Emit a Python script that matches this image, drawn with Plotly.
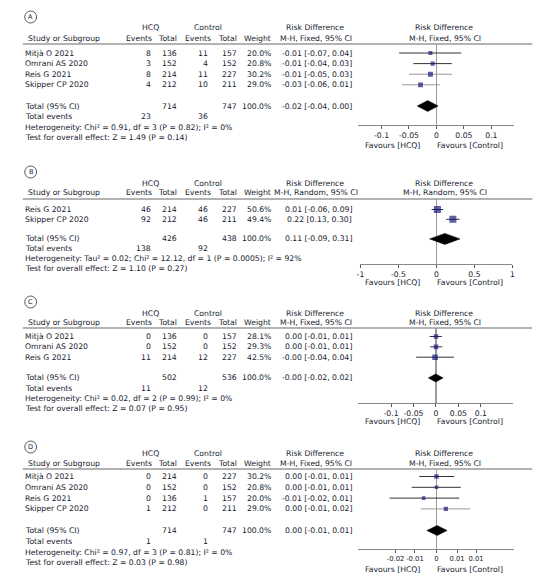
import plotly.graph_objects as go

W, H = 553, 580
FONT = "DejaVu Sans"
FS = 7.7
TXT = "#161b2e"
SQ = "#1a1a80"

# ---------------- Panel A ----------------
A_study = ["Mitjà O 2021", "Omrani AS 2020", "Reis G 2021", "Skipper CP 2020"]
A_hcq_ev = [8, 3, 8, 4]
A_hcq_n = [136, 152, 214, 212]
A_ctl_ev = [11, 4, 11, 10]
A_ctl_n = [157, 152, 227, 211]
A_weight = ["20.0%", "20.8%", "30.2%", "29.0%"]
A_ci_txt = ["-0.01 [-0.07, 0.04]", "-0.01 [-0.04, 0.03]", "-0.01 [-0.05, 0.03]", "-0.03 [-0.06, 0.01]"]
A_est = [-0.011, -0.007, -0.011, -0.029]
A_lo = [-0.068, -0.042, -0.050, -0.063]
A_hi = [0.045, 0.028, 0.028, 0.006]
A_w = [20.0, 20.8, 30.2, 29.0]
A_tot = [-0.016, -0.035, 0.003]
A_tot_n = ["714", "747"]
A_tot_ev = ["23", "36"]
A_tot_ci = "-0.02 [-0.04, 0.00]"
A_het = "Heterogeneity: Chi² = 0.91, df = 3 (P = 0.82); I² = 0%"
A_test = "Test for overall effect: Z = 1.49 (P = 0.14)"
A_method = "M-H, Fixed, 95% CI"
A_tickvals = [-0.1, -0.05, 0, 0.05, 0.1]
A_ticktext = ["-0.1", "-0.05", "0", "0.05", "0.1"]

# ---------------- Panel B ----------------
B_study = ["Reis G 2021", "Skipper CP 2020"]
B_hcq_ev = [46, 92]
B_hcq_n = [214, 212]
B_ctl_ev = [46, 46]
B_ctl_n = [227, 211]
B_weight = ["50.6%", "49.4%"]
B_ci_txt = ["0.01 [-0.06, 0.09]", "0.22 [0.13, 0.30]"]
B_est = [0.012, 0.216]
B_lo = [-0.064, 0.129]
B_hi = [0.088, 0.303]
B_w = [50.6, 49.4]
B_tot = [0.11, -0.09, 0.31]
B_tot_n = ["426", "438"]
B_tot_ev = ["138", "92"]
B_tot_ci = "0.11 [-0.09, 0.31]"
B_het = "Heterogeneity: Tau² = 0.02; Chi² = 12.12, df = 1 (P = 0.0005); I² = 92%"
B_test = "Test for overall effect: Z = 1.10 (P = 0.27)"
B_method = "M-H, Random, 95% CI"
B_tickvals = [-1, -0.5, 0, 0.5, 1]
B_ticktext = ["-1", "-0.5", "0", "0.5", "1"]

# ---------------- Panel C ----------------
C_study = ["Mitjà O 2021", "Omrani AS 2020", "Reis G 2021"]
C_hcq_ev = [0, 0, 11]
C_hcq_n = [136, 152, 214]
C_ctl_ev = [0, 0, 12]
C_ctl_n = [157, 152, 227]
C_weight = ["28.1%", "29.3%", "42.5%"]
C_ci_txt = ["0.00 [-0.01, 0.01]", "0.00 [-0.01, 0.01]", "-0.00 [-0.04, 0.04]"]
C_est = [0.0, 0.0, -0.002]
C_lo = [-0.014, -0.013, -0.044]
C_hi = [0.013, 0.014, 0.040]
C_w = [28.1, 29.3, 42.5]
C_tot = [-0.0005, -0.017, 0.016]
C_tot_n = ["502", "536"]
C_tot_ev = ["11", "12"]
C_tot_ci = "-0.00 [-0.02, 0.02]"
C_het = "Heterogeneity: Chi² = 0.02, df = 2 (P = 0.99); I² = 0%"
C_test = "Test for overall effect: Z = 0.07 (P = 0.95)"
C_method = "M-H, Fixed, 95% CI"
C_tickvals = [-0.1, -0.05, 0, 0.05, 0.1]
C_ticktext = ["-0.1", "-0.05", "0", "0.05", "0.1"]

# ---------------- Panel D ----------------
D_study = ["Mitjà O 2021", "Omrani AS 2020", "Reis G 2021", "Skipper CP 2020"]
D_hcq_ev = [0, 0, 0, 1]
D_hcq_n = [214, 152, 136, 212]
D_ctl_ev = [0, 0, 1, 0]
D_ctl_n = [227, 152, 157, 211]
D_weight = ["30.2%", "20.8%", "20.0%", "29.0%"]
D_ci_txt = ["0.00 [-0.01, 0.01]", "0.00 [-0.01, 0.01]", "-0.01 [-0.02, 0.01]", "0.00 [-0.01, 0.02]"]
D_est = [0.0, 0.0, -0.006, 0.0044]
D_lo = [-0.008, -0.0116, -0.022, -0.0074]
D_hi = [0.0084, 0.0114, 0.0107, 0.0158]
D_w = [30.2, 20.8, 20.0, 29.0]
D_tot = [0.0003, -0.0045, 0.005]
D_tot_n = ["714", "747"]
D_tot_ev = ["1", "1"]
D_tot_ci = "0.00 [-0.01, 0.01]"
D_het = "Heterogeneity: Chi² = 0.97, df = 3 (P = 0.81); I² = 0%"
D_test = "Test for overall effect: Z = 0.03 (P = 0.98)"
D_method = "M-H, Fixed, 95% CI"
D_tickvals = [-0.0192, -0.0101, 0, 0.0097, 0.0186]
D_ticktext = ["-0.02", "-0.01", "0", "0.01", "0.01"]

panels = [
    dict(letter="A", study=A_study, hev=A_hcq_ev, hn=A_hcq_n, cev=A_ctl_ev, cn=A_ctl_n, wt=A_weight,
         ci=A_ci_txt, est=A_est, lo=A_lo, hi=A_hi, w=A_w, tot=A_tot, tot_n=A_tot_n, tot_ev=A_tot_ev,
         tot_ci=A_tot_ci, het=A_het, test=A_test, method=A_method, tv=A_tickvals, tt=A_ticktext),
    dict(letter="B", study=B_study, hev=B_hcq_ev, hn=B_hcq_n, cev=B_ctl_ev, cn=B_ctl_n, wt=B_weight,
         ci=B_ci_txt, est=B_est, lo=B_lo, hi=B_hi, w=B_w, tot=B_tot, tot_n=B_tot_n, tot_ev=B_tot_ev,
         tot_ci=B_tot_ci, het=B_het, test=B_test, method=B_method, tv=B_tickvals, tt=B_ticktext),
    dict(letter="C", study=C_study, hev=C_hcq_ev, hn=C_hcq_n, cev=C_ctl_ev, cn=C_ctl_n, wt=C_weight,
         ci=C_ci_txt, est=C_est, lo=C_lo, hi=C_hi, w=C_w, tot=C_tot, tot_n=C_tot_n, tot_ev=C_tot_ev,
         tot_ci=C_tot_ci, het=C_het, test=C_test, method=C_method, tv=C_tickvals, tt=C_ticktext),
    dict(letter="D", study=D_study, hev=D_hcq_ev, hn=D_hcq_n, cev=D_ctl_ev, cn=D_ctl_n, wt=D_weight,
         ci=D_ci_txt, est=D_est, lo=D_lo, hi=D_hi, w=D_w, tot=D_tot, tot_n=D_tot_n, tot_ev=D_tot_ev,
         tot_ci=D_tot_ci, het=D_het, test=D_test, method=D_method, tv=D_tickvals, tt=D_ticktext),
]

# layout geometry (pixels)
geom = [
    dict(y0=53, sp=10.6, top=44, bottom=125, xl=359, xrgt=517, xr=0.142, h1=28, h2=38, circ=17, fav=146,
         k=0.9, dh=5.5, tfs=FS, lc=["#333333", "#333333", "#9a9a9a", "#9a9a9a"]),
    dict(y0=209.5, sp=9.8, top=199, bottom=264, xl=361, xrgt=515, xr=1.0, h1=183, h2=193, circ=172, fav=282,
         k=1.0, dh=5.5, tfs=FS, lc=["#333333", "#333333"]),
    dict(y0=336.5, sp=10.35, top=328, bottom=403, xl=359, xrgt=516, xr=0.1725, h1=313, h2=323, circ=302, fav=421,
         k=0.85, dh=4.0, tfs=FS, lc=["#333333", "#333333", "#333333"]),
    dict(y0=476.5, sp=10.8, top=469, bottom=549, xl=359, xrgt=517, xr=0.0366, h1=453, h2=463, circ=447, fav=569,
         k=0.8, dh=5.0, tfs=6.8, lc=["#333333", "#333333", "#333333", "#9a9a9a"]),
]

fig = go.Figure()
ann = []
shapes = []
layout_axes = {}


def px(x):
    return x / W


def py(y):
    return 1 - y / H


def T(x, y, s, anchor="left", size=FS):
    ann.append(dict(x=px(x), y=py(y), xref="paper", yref="paper",
                    text=s, showarrow=False, xanchor=anchor, yanchor="middle",
                    font=dict(family=FONT, size=size, color=TXT)))


for i, (p, g) in enumerate(zip(panels, geom), start=1):
    xa = "x" if i == 1 else f"x{i}"
    ya = "y" if i == 1 else f"y{i}"
    n = len(p["study"])
    tot_row = n + 1
    row_top = (g["top"] - g["y0"]) / g["sp"]
    row_bot = (g["bottom"] - g["y0"]) / g["sp"]

    def rowy(r, g=g):
        return g["y0"] + g["sp"] * r

    layout_axes["xaxis" if i == 1 else f"xaxis{i}"] = dict(
        domain=[px(g["xl"]), px(g["xrgt"])], anchor=ya, range=[-g["xr"], g["xr"]],
        showgrid=False, zeroline=True, zerolinecolor="#9a9a9a", zerolinewidth=1.5,
        showline=True, linecolor="#8a8a8a", linewidth=1, ticks="outside", ticklen=3,
        tickcolor="#555555", tickvals=p["tv"], ticktext=p["tt"], tickangle=0,
        tickfont=dict(family=FONT, size=g["tfs"], color=TXT), fixedrange=True)
    layout_axes["yaxis" if i == 1 else f"yaxis{i}"] = dict(
        domain=[py(g["bottom"]), py(g["top"])], anchor=xa, range=[row_bot, row_top],
        showgrid=False, zeroline=False, showline=False, showticklabels=False, ticks="",
        fixedrange=True)

    # CI lines
    for r in range(n):
        fig.add_trace(go.Scatter(x=[p["lo"][r], p["hi"][r]], y=[r, r], xaxis=xa, yaxis=ya, mode="lines",
                                 line=dict(color=g["lc"][r], width=1), hoverinfo="skip", showlegend=False))
    # squares
    fig.add_trace(go.Scatter(x=p["est"], y=list(range(n)), xaxis=xa, yaxis=ya, mode="markers",
                             marker=dict(symbol="square", color=SQ,
                                         size=[g["k"] * (w ** 0.5) for w in p["w"]], line=dict(width=0)),
                             showlegend=False))
    # diamond
    e, lo, hi = p["tot"]
    dh = g["dh"] / g["sp"]
    fig.add_trace(go.Scatter(x=[lo, e, hi, e, lo], y=[tot_row, tot_row - dh, tot_row, tot_row + dh, tot_row],
                             xaxis=xa, yaxis=ya, mode="lines", fill="toself", fillcolor="black",
                             line=dict(color="black", width=0.5), showlegend=False))

    # circle letter
    shapes.append(dict(type="circle", xref="paper", yref="paper", x0=px(21), x1=px(33),
                       y0=py(g["circ"] + 6), y1=py(g["circ"] - 6), line=dict(color="#333333", width=0.8)))
    T(27, g["circ"], p["letter"], anchor="center", size=6.5)

    # headers
    T(148.5, g["h1"], "HCQ", "center")
    T(206.5, g["h1"], "Control", "center")
    T(315, g["h1"], "Risk Difference", "center")
    T(446, g["h1"], "Risk Difference", "center")
    T(22, g["h2"], "Study or Subgroup")
    T(152, g["h2"], "Events", "right")
    T(177, g["h2"], "Total", "right")
    T(212, g["h2"], "Events", "right")
    T(238, g["h2"], "Total", "right")
    T(272, g["h2"], "Weight", "right")
    T(316, g["h2"], p["method"], "center")
    T(447, g["h2"], p["method"], "center")
    shapes.append(dict(type="line", xref="paper", yref="paper", x0=px(19), x1=px(535),
                       y0=py(g["top"]), y1=py(g["top"]), line=dict(color="#9a9a9a", width=1.5)))

    # study rows
    for r in range(n):
        y = rowy(r)
        T(19, y, p["study"][r], "left")
        T(151, y, str(p["hev"][r]), "right")
        T(177, y, str(p["hn"][r]), "right")
        T(209, y, str(p["cev"][r]), "right")
        T(238, y, str(p["cn"][r]), "right")
        T(272, y, p["wt"][r], "right")
        T(354, y, p["ci"][r], "right")
    # totals
    y = rowy(tot_row)
    T(19, y, "Total (95% CI)", "left")
    T(177, y, p["tot_n"][0], "right")
    T(238, y, p["tot_n"][1], "right")
    T(272, y, "100.0%", "right")
    T(354, y, p["tot_ci"], "right")
    y = rowy(tot_row + 1)
    T(19, y, "Total events", "left")
    T(151, y, p["tot_ev"][0], "right")
    T(209, y, p["tot_ev"][1], "right")
    T(19, rowy(tot_row + 2), p["het"], "left")
    T(19, rowy(tot_row + 3), p["test"], "left")

    # favours
    T(423, g["fav"], "Favours [HCQ]", "right")
    T(437, g["fav"], "Favours [Control]", "left")

fig.update_layout(width=W, height=H, margin=dict(l=0, r=0, t=0, b=0), autosize=False,
                  paper_bgcolor="white", plot_bgcolor="white", showlegend=False, hovermode=False,
                  annotations=ann, shapes=shapes, font=dict(family=FONT, size=FS, color=TXT),
                  **layout_axes)
fig.write_html("out.html", config={"displayModeBar": False, "staticPlot": True},
               post_script="document.body.style.margin='0';document.body.style.overflow='hidden';")
